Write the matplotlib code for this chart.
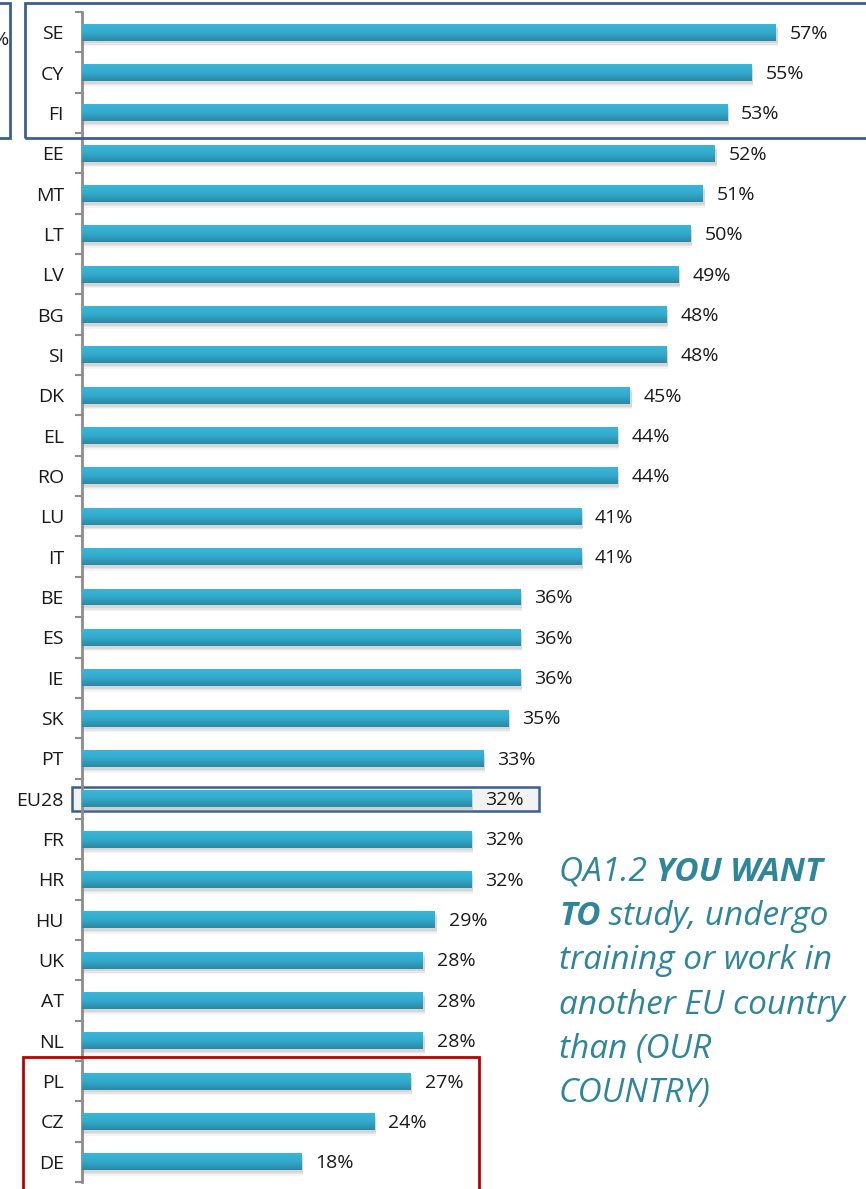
import matplotlib.pyplot as plt
import numpy as np
from matplotlib.patches import Rectangle
from matplotlib.colors import LinearSegmentedColormap

# Données
countries = ['SE', 'CY', 'FI', 'EE', 'MT', 'LT', 'LV', 'BG', 'SI', 'DK', 'EL', 'RO',
             'LU', 'IT', 'BE', 'ES', 'IE', 'SK', 'PT', 'EU28', 'FR', 'HR', 'HU', 'UK',
             'AT', 'NL', 'PL', 'CZ', 'DE']
values = [57, 55, 53, 52, 51, 50, 49, 48, 48, 45, 44, 44,
          41, 41, 36, 36, 36, 35, 33, 32, 32, 32, 29, 28,
          28, 28, 27, 24, 18]

W, H = 866, 1189
fig = plt.figure(figsize=(W / 100, H / 100), dpi=100)
plt.rcParams['font.family'] = ['Open Sans', 'DejaVu Sans']

def fx(px):
    return px / W

def fy(py):
    return 1 - py / H

ax = fig.add_axes([fx(82), fy(1182), fx(861) - fx(82), fy(12) - fy(1182)])

y = np.arange(len(countries))
bh = 0.42

# ombre
for k, a in [(0.10, 0.10), (0.06, 0.15), (0.03, 0.2)]:
    ax.barh(y + k + 0.04, np.array(values) + 0.15, height=bh, color='#9a9a9a',
            alpha=a, zorder=1, linewidth=0)

bars = ax.barh(y, values, height=bh, color='#33aed0', zorder=2, linewidth=0)

# dégradé vertical (clair en haut, foncé en bas)
grad = np.linspace(0, 1, 64).reshape(-1, 1)
cmap = LinearSegmentedColormap.from_list('bar', ['#39b6da', '#33aacb', '#2a88a3'])
for b in bars:
    x0, y0 = b.get_x(), b.get_y()
    w, h = b.get_width(), b.get_height()
    im = ax.imshow(grad, extent=(x0, x0 + w, y0 + h, y0), cmap=cmap,
                   aspect='auto', zorder=3, origin='upper')
    im.set_clip_path(b)
ax.set_xlim(0, 64)
ax.set_ylim(len(countries) - 0.5, -0.5)

for yi, v in zip(y, values):
    ax.annotate(f'{v}%', (v, yi), xytext=(10, -1), textcoords='offset points',
                va='center', ha='left', fontsize=14, color='#1a1a1a', zorder=5)

ax.set_yticks(y)
ax.set_yticklabels(countries, fontsize=14, color='#1a1a1a')
for lab in ax.get_yticklabels():
    lab.set_y(lab.get_position()[1])
ax.set_yticks(np.arange(len(countries) + 1) - 0.5, minor=True)
ax.tick_params(axis='y', which='major', length=0, pad=13)
ax.tick_params(axis='y', which='minor', length=5, width=1.5, color='#8c8c8c')
ax.set_xticks([])
for s in ['top', 'right', 'bottom']:
    ax.spines[s].set_visible(False)
ax.spines['left'].set_color('#8c8c8c')
ax.spines['left'].set_linewidth(2)
ax.set_facecolor('none')

# cadres
blue = '#3c5f8f'
fig.add_artist(Rectangle((fx(25), fy(138)), fx(900) - fx(25), fy(3) - fy(138),
                         transform=fig.transFigure, fill=False, ec=blue, lw=2, zorder=10))
fig.add_artist(Rectangle((fx(-60), fy(138)), fx(70), fy(3) - fy(138),
                         transform=fig.transFigure, fill=False, ec=blue, lw=2, zorder=10))
fig.text(fx(-7), fy(40), '%', fontsize=14, color='#1a1a1a', va='center', ha='left')
fig.add_artist(Rectangle((fx(72), fy(811)), fx(539) - fx(72), fy(787) - fy(811),
                         transform=fig.transFigure, fc='#f2f2f2', ec=blue, lw=1.8, zorder=0))
fig.add_artist(Rectangle((fx(23), fy(1200)), fx(479) - fx(23), fy(1057) - fy(1200),
                         transform=fig.transFigure, fill=False, ec='#c00000', lw=2, zorder=10))

# texte de la question
teal = '#2f8599'
lines = [
    [('QA1.2 ', 'normal'), ('YOU WANT', 'bold')],
    [('TO', 'bold'), (' study, undergo', 'normal')],
    [('training or work in', 'normal')],
    [('another EU country', 'normal')],
    [('than (OUR', 'normal')],
    [('COUNTRY)', 'normal')],
]
fig.canvas.draw()
renderer = fig.canvas.get_renderer()
base = 881
for i, segs in enumerate(lines):
    xpix = 559
    for txt, wt in segs:
        t = fig.text(fx(xpix), fy(base + i * 44.2), txt, fontsize=24, style='italic',
                     weight=wt, color=teal, va='baseline', ha='left')
        bb = t.get_window_extent(renderer)
        xpix += bb.width

fig.savefig('out.png', dpi=100)
